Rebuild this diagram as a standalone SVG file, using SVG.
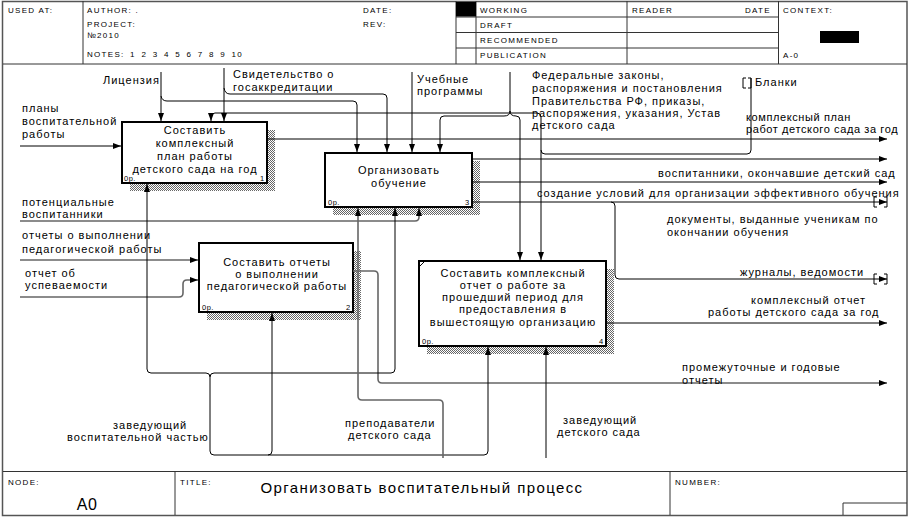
<svg xmlns="http://www.w3.org/2000/svg" width="910" height="519" viewBox="0 0 910 519">
<defs>
<pattern id="hatch" width="2" height="2" patternUnits="userSpaceOnUse"><rect width="2" height="2" fill="#fff"/><rect width="1" height="1" fill="#666"/><rect x="1" y="1" width="1" height="1" fill="#666"/></pattern>
<marker id="ah" viewBox="0 0 8 6" refX="8" refY="3" markerWidth="8" markerHeight="6" markerUnits="userSpaceOnUse" orient="auto"><path d="M0,0 L8,3 L0,6 z" fill="#000"/></marker>
<style>
text{font-family:"Liberation Sans",Arial,sans-serif;fill:#000}
.t{font-size:11px;letter-spacing:1px}
.m{text-anchor:middle}
.h{font-size:8px;letter-spacing:1.3px}
.op{font-size:7.5px;letter-spacing:0.5px}
.fr{fill:none;stroke:#555;stroke-width:1.5}
.ln{fill:none;stroke:#333;stroke-width:1}
.bx{fill:#fff;stroke:#000;stroke-width:2}
.sh{fill:url(#hatch)}
.c{fill:none;stroke:#000;stroke-width:1}
.g{stroke:#666;stroke-width:1.6}
.a{marker-end:url(#ah)}
</style>
</defs>
<rect width="910" height="519" fill="#fff"/>
<g id="frame">
<rect class="fr" x="2.5" y="1.5" width="904.5" height="514"/>
<path class="ln" d="M3,64 H907 M83,1 V64 M456,1 V64 M476,1 V64 M627,1 V64 M778.5,1 V64 M456,17 H778.5 M456,32.5 H778.5 M456,48 H778.5 M3,471.5 H907 M175,471.5 V515 M670,471.5 V515 M843,503 H907 M843,503 V515"/>
<rect x="456" y="2" width="20" height="14.5" fill="#000"/>
<rect x="820" y="31" width="39" height="12" fill="#000"/>
<text class="h" x="8" y="13">USED AT:</text>
<text class="h" x="87" y="13">AUTHOR: .</text>
<text class="h" x="87" y="27">PROJECT:</text>
<text class="h" x="87" y="38">№2010</text>
<text class="h" x="87" y="57" style="word-spacing:2px">NOTES: 1 2 3 4 5 6 7 8 9 10</text>
<text class="h" x="363" y="13">DATE:</text>
<text class="h" x="363" y="27">REV:</text>
<text class="h" x="480" y="13">WORKING</text>
<text class="h" x="480" y="28">DRAFT</text>
<text class="h" x="480" y="43">RECOMMENDED</text>
<text class="h" x="480" y="58">PUBLICATION</text>
<text class="h" x="632" y="13">READER</text>
<text class="h" x="745" y="13">DATE</text>
<text class="h" x="783" y="13">CONTEXT:</text>
<text class="h" x="783" y="58">A-0</text>
<text class="h" x="8" y="485">NODE:</text>
<text class="h" x="180" y="485">TITLE:</text>
<text class="h" x="675" y="485">NUMBER:</text>
<text x="87" y="510" style="font-size:16px;letter-spacing:0.5px" class="m">A0</text>
<text x="422" y="493" style="font-size:15px;letter-spacing:1.4px" class="m">Организовать воспитательный процесс</text>
</g>
<g id="node1">
<rect class="sh" x="130" y="130" width="145" height="61"/>
<rect class="bx" x="122" y="122" width="145" height="61"/>
<text class="t m" x="195" y="134">Составить</text>
<text class="t m" x="195" y="147">комплексный</text>
<text class="t m" x="195" y="160">план работы</text>
<text class="t m" x="195" y="173">детского сада на год</text>
<text class="op" x="124" y="181">0р.</text>
<text class="op" x="260" y="181">1</text>
</g>
<g id="node3">
<rect class="sh" x="333" y="161" width="147" height="54"/>
<rect class="bx" x="325" y="153" width="147" height="54"/>
<text class="t m" x="399" y="174">Организовать</text>
<text class="t m" x="399" y="187">обучение</text>
<text class="op" x="328" y="205">0р.</text>
<text class="op" x="465" y="205">3</text>
</g>
<g id="node2">
<rect class="sh" x="207" y="251" width="154" height="69"/>
<rect class="bx" x="199" y="243" width="154" height="69"/>
<text class="t m" x="277" y="266">Составить отчеты</text>
<text class="t m" x="277" y="278">о выполнении</text>
<text class="t m" x="277" y="290">педагогической работы</text>
<text class="op" x="202" y="310">0р.</text>
<text class="op" x="346" y="310">2</text>
</g>
<g id="node4">
<rect class="sh" x="427" y="269" width="187" height="85"/>
<rect class="bx" x="419" y="261" width="187" height="85"/>
<path class="c" d="M419,267 L425,261"/>
<text class="t m" x="513" y="277">Составить комплексный</text>
<text class="t m" x="513" y="289">отчет о работе за</text>
<text class="t m" x="513" y="301">прошедший период для</text>
<text class="t m" x="513" y="313">предоставления в</text>
<text class="t m" x="513" y="326">вышестоящую организацию</text>
<text class="op" x="422" y="344">0р.</text>
<text class="op" x="599" y="344">4</text>
</g>
<g id="connectors">
<path class="c a" d="M20,146 H121"/>
<path class="c g a" d="M20,260 H198"/>
<path class="c g a" d="M20,297 H179 q4,0 4,-4 V284 q0,-4 4,-4 H198"/>
<path class="c g a" d="M20,221 H415 q4,0 4,-4 V208"/>
<path class="c a" d="M161,72 V121"/>
<path class="c a" d="M161,96 q1,5 6,5 H353 q4,0 4,4 V152"/>
<path class="c a" d="M224,68 V121"/>
<path class="c a" d="M224,88 q1,6 6,6 H383 q4,0 4,4 V152"/>
<path class="c a" d="M412,72 V152"/>
<path class="c a" d="M400,113 H215 q-4,0 -4,4 V121"/>
<path class="c a" d="M400,113 H537 q4,0 4,4 V260"/>
<path class="c" d="M510,72 V112"/>
<path class="c" d="M504,116 q6,0 6,-5 q0,5 6,5"/>
<path class="c a" d="M504,116 H444 q-4,0 -4,4 V152"/>
<path class="c a" d="M516,116 q4,0 4,4 V260"/>
<path class="c" d="M751,78 V150 q0,4 -4,4 H545 q-4,0 -4,-4"/>
<path class="c" d="M746,78 h-3 v10 h3 M748,78 h3 v10 h-3"/>
<path class="c a" d="M267,139 H887"/>
<path class="c a" d="M472,159 H887"/>
<path class="c a" d="M472,182 H887"/>
<path class="c a" d="M472,202 H887"/>
<path class="c a" d="M611,202 q4,0 4,4 V275 q0,4 4,4 H887"/>
<path class="c" d="M877,197 h-3 v10 h3 M884,197 h3 v10 h-3"/>
<path class="c" d="M877,274 h-3 v10 h3 M884,274 h3 v10 h-3"/>
<path class="c g a" d="M353,271 H374 q4,0 4,4 V379 q0,4 4,4 H887"/>
<path class="c a" d="M606,323 H887"/>
<path class="c a" d="M206,373 H151 q-4,0 -4,-4 V184"/>
<path class="c a" d="M214,373 H391 q4,0 4,-4 V208"/>
<path class="c" d="M206,373 q4,0 4,4 q0,-4 4,-4"/>
<path class="c a" d="M210,377 V451 q0,4 4,4 H484 q4,0 4,-4 V347"/>
<path class="c a" d="M268,455 q4,0 4,-4 V313"/>
<path class="c g a" d="M443,458 V404 q0,-4 -4,-4 H362 q-4,0 -4,-4 V208"/>
<path class="c a" d="M546,458 V347"/>
</g>
<g id="labels">
<text class="t" x="103" y="84">Лицензия</text>
<text class="t" x="233" y="78">Свидетельство о</text>
<text class="t" x="233" y="91">госаккредитации</text>
<text class="t" x="417" y="83">Учебные</text>
<text class="t" x="417" y="95">программы</text>
<text class="t" x="532" y="79">Федеральные законы,</text>
<text class="t" x="532" y="92">распоряжения и постановления</text>
<text class="t" x="532" y="105">Правительства РФ, приказы,</text>
<text class="t" x="532" y="117">распоряжения, указания, Устав</text>
<text class="t" x="532" y="129">детского сада</text>
<text class="t" x="755" y="86">Бланки</text>
<text class="t" x="746" y="121" style="letter-spacing:0.6px">комплексный план</text>
<text class="t" x="746" y="133" style="letter-spacing:0.6px">работ детского сада за год</text>
<text class="t" x="658" y="177">воспитанники, окончавшие детский сад</text>
<text class="t" x="537" y="197">создание условий для организации эффективного обучения</text>
<text class="t" x="667" y="223">документы, выданные ученикам по</text>
<text class="t" x="667" y="236">окончании обучения</text>
<text class="t" x="740" y="276">журналы, ведомости</text>
<text class="t" x="751" y="304">комплексный отчет</text>
<text class="t" x="708" y="316">работы детского сада  за год</text>
<text class="t" x="682" y="371">промежуточные и годовые</text>
<text class="t" x="682" y="384">отчеты</text>
<text class="t" x="22" y="112">планы</text>
<text class="t" x="22" y="125">воспитательной</text>
<text class="t" x="22" y="138">работы</text>
<text class="t" x="22" y="206">потенциальные</text>
<text class="t" x="22" y="218">воспитанники</text>
<text class="t" x="22" y="239">отчеты о выполнении</text>
<text class="t" x="22" y="253">педагогической работы</text>
<text class="t" x="25" y="277">отчет об</text>
<text class="t" x="25" y="289">успеваемости</text>
<text class="t" x="113" y="429">заведующий</text>
<text class="t" x="67" y="441">воспитательной частью</text>
<text class="t" x="345" y="427">преподаватели</text>
<text class="t" x="348" y="439">детского сада</text>
<text class="t" x="563" y="424">заведующий</text>
<text class="t" x="557" y="436">детского сада</text>
</g>
</svg>
